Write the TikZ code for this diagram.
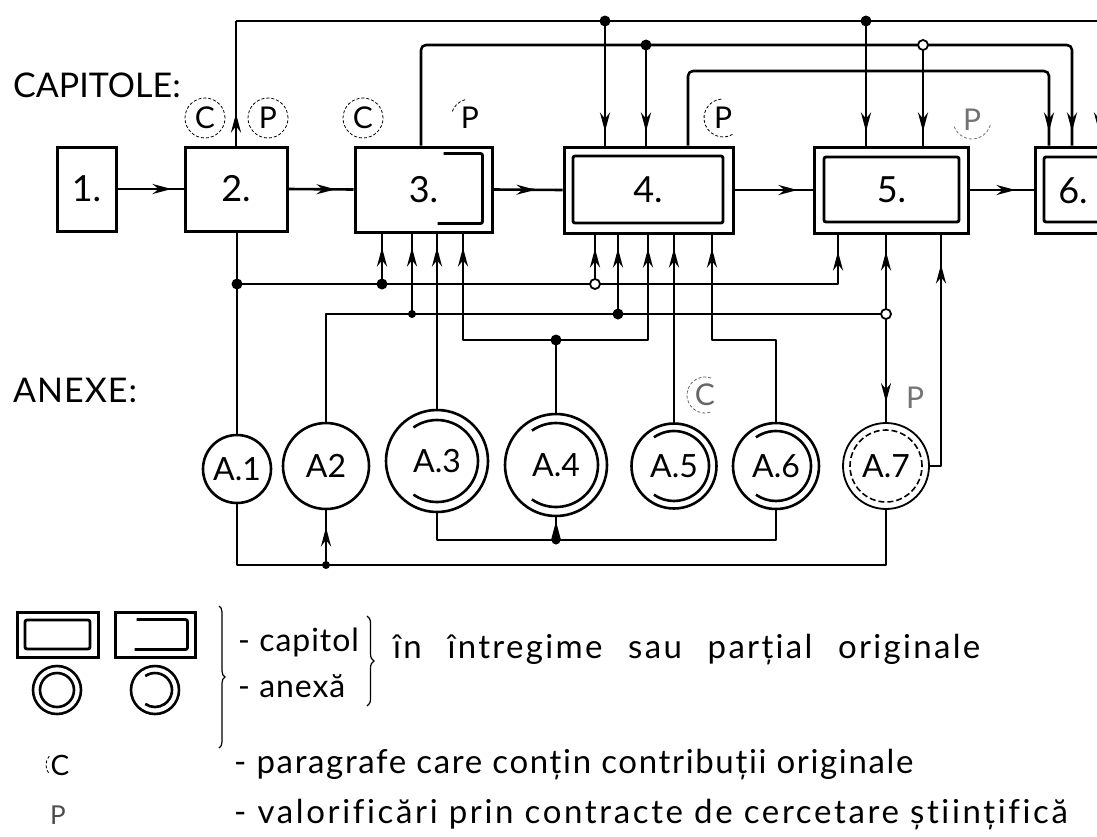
\documentclass[tikz,border=0pt]{standalone}
\usepackage{fontspec}
\setmainfont{Lato}[Ligatures=NoCommon]
\usetikzlibrary{arrows.meta,decorations.markings,decorations.pathreplacing,calc}
\newcommand{\fsz}[1]{\fontsize{#1}{#1}\selectfont}
\newcommand{\lsp}[1]{\addfontfeature{LetterSpace=#1}}
\begin{document}
\begin{tikzpicture}[x=1pt,y=-1pt,
  conn/.style={line width=2.6pt, line join=round},
  boxs/.style={draw, line width=3pt, rectangle, inner sep=0pt, font=\fsz{36}},
  innerbox/.style={draw, line width=2.8pt, rectangle, inner sep=0pt, rounded corners=2pt},
  brk/.style={line width=2.8pt, rounded corners=2pt},
  anx/.style={draw, circle, line width=2.6pt, inner sep=0pt, font=\fsz{32}},
  innerarc/.style={line width=2.6pt},
  note/.style={circle, inner sep=0pt, minimum size=40pt, font=\fsz{30}},
  dashc/.style={draw, dash pattern=on 3pt off 2pt, line width=0.8pt},
  thinarc/.style={dash pattern=on 3pt off 2pt, line width=0.8pt},
  dot/.style={circle, fill=black, inner sep=0pt, minimum size=11pt},
  odot/.style={circle, fill=white, draw=black, line width=1.8pt, inner sep=0pt, minimum size=10pt},
  tipat/.style={postaction={decorate}, decoration={markings, mark=at position #1 with {\arrow{Stealth[length=19pt,width=10pt]}}}},
  lbl/.style={inner sep=0pt, anchor=west},
]
\useasboundingbox (0,0) rectangle (1097,836);

% ---------- labels
\node[lbl, font=\fsz{34}] (capt) at (13,85) {CAPITOLE:};
\node[lbl, font=\fsz{34}\lsp{3}] (anex) at (13,390) {ANEXE:};

% ---------- chapter boxes
\node[boxs, minimum width=59pt, minimum height=84pt] (b1) at (86.5,189) {1.};
\node[boxs, minimum width=102pt, minimum height=84pt] (b2) at (236,189) {2.};
\node[boxs, minimum width=137pt, minimum height=85pt] (b3) at (423.5,189.5) {3.};
\draw[brk] ($(b3.north east)+(-50,8)$) -- ($(b3.north east)+(-11,8)$) -- ($(b3.south east)+(-11,-10)$) -- ($(b3.south east)+(-56,-10)$);
\node[boxs, minimum width=169pt, minimum height=86pt] (b4) at (648.5,190) {};
\node[innerbox, minimum width=150pt, minimum height=67pt, font=\fsz{36}] (b4i) at (648,189.5) {4.};
\node[boxs, minimum width=154pt, minimum height=86pt] (b5) at (891,190) {};
\node[innerbox, minimum width=135pt, minimum height=65pt, font=\fsz{36}] (b5i) at (891.5,189.5) {5.};
\node[boxs, minimum width=180pt, minimum height=86pt] (b6) at (1125,190) {};
\node[innerbox, minimum width=162pt, minimum height=65pt] (b6i) at (1125,189.5) {};
\node[font=\fsz{36}, inner sep=0pt] (t6) at (1073,191) {6.};

% ---------- annex circles
\node[anx, minimum size=68pt] (A1) at (237,469) {A.1};
\node[anx, minimum size=86pt] (A2) at (326,466) {A2};
\node[anx, minimum size=102pt] (A3) at (437,461) {A.3};
\node[anx, minimum size=102pt] (A4) at (556,465) {A.4};
\node[anx, minimum size=85pt] (A5) at (674,466) {A.5};
\node[anx, minimum size=86pt] (A6) at (776,466) {A.6};
\node[anx, minimum size=86pt, line width=1.8pt] (A7) at (886,466) {A.7};
\draw[innerarc] (A3.center) ++(125:41pt) arc[start angle=125, end angle=-125, radius=41pt];
\draw[innerarc] (A4.center) ++(125:42pt) arc[start angle=125, end angle=-125, radius=42pt];
\draw[innerarc] (A5.center) ++(125:35pt) arc[start angle=125, end angle=-125, radius=35pt];
\draw[innerarc] (A6.center) ++(125:35pt) arc[start angle=125, end angle=-125, radius=35pt];
\draw[line width=1.6pt, dash pattern=on 6pt off 3pt] (A7.center) circle[radius=36pt];

% ---------- notes C / P
\node[note, dashc] (nC2) at (205,118) {C};
\node[note, dashc] (nP2) at (268,118) {P};
\node[note, dashc] (nC3) at (363,118) {C};
\node[note] (nP3) at (470,118) {P};
\draw[thinarc] (nP3.center) ++(105:19pt) arc[start angle=105, end angle=165, radius=19pt];
\node[note] (nP4) at (723,118) {P};
\draw[thinarc] (nP4.center) ++(95:19pt) arc[start angle=95, end angle=300, radius=19pt];
\node[note, text=black!55] (nP5) at (972,120) {P};
\draw[thinarc, black!55] (nP5.center) ++(200:19pt) arc[start angle=200, end angle=350, radius=19pt];
\node[note, text=black!60] (nC5) at (705,395) {C};
\draw[thinarc, black!60] (nC5.center) ++(70:18pt) arc[start angle=70, end angle=290, radius=18pt];
\node[note, text=black!55] (nP7) at (915,398) {P};

% ---------- coordinates of buses
\coordinate (c21) at (236,21);
\coordinate (e1) at (1099,21);
\coordinate (d41) at (605,21);
\coordinate (d51) at (866,21);
\coordinate (c3) at (421,45);
\coordinate (c62) at (1072,45);
\coordinate (d42) at (646,45);
\coordinate (d52) at (923,45);
\coordinate (c4) at (688,71);
\coordinate (c61) at (1049,71);

\coordinate (j1) at (237,284);
\coordinate (j3a) at (382,284);
\coordinate (j4a) at (595,284);
\coordinate (k5) at (838,284);
\coordinate (m0) at (326,314);
\coordinate (j3b) at (412,314);
\coordinate (j4b) at (618,314);
\coordinate (m7) at (886,314);
\coordinate (n3) at (463,340);
\coordinate (n4) at (556,340);
\coordinate (n5) at (648,340);
\coordinate (p6) at (776,340);
\coordinate (p4) at (712,340);
\coordinate (q) at (941,466);
\coordinate (r1) at (237,565);
\coordinate (r2) at (326,565);
\coordinate (r7) at (886,565);
\coordinate (s3) at (437,540);
\coordinate (s4) at (556,540);
\coordinate (s6) at (776,540);

% ---------- horizontal chapter flow
\draw[conn, tipat=-12pt] (b1.east) -- (b2.west);
\draw[conn, tipat=-18pt] (b2.east) -- (b3.west);
\draw[conn, tipat=-27pt] (b3.east) -- (b4.west);
\draw[conn, tipat=-15pt] (b4.east) -- (b5.west);
\draw[conn, tipat=-18pt] (b5.east) -- (b6.west);

% ---------- top buses
\draw[conn, tipat=32pt] (c21 |- b2.north) -- (c21);
\draw[conn, tipat=-14pt] (c21) -- (e1) -- (e1 |- b6.north);
\draw[conn, tipat=-14pt] (d41) -- (d41 |- b4.north);
\draw[conn, tipat=-14pt] (d51) -- (d51 |- b5.north);
\draw[conn, rounded corners=5pt, tipat=-14pt] (c3 |- b3.north) -- (c3) -- (c62) -- (c62 |- b6.north);
\draw[conn, tipat=-14pt] (d42) -- (d42 |- b4.north);
\draw[conn, tipat=-14pt] (d52) -- (d52 |- b5.north);
\draw[conn, rounded corners=5pt, tipat=-14pt] (c4 |- b4.north) -- (c4) -- (c61) -- (c61 |- b6.north);

% ---------- lower buses
\draw[conn] (j1 |- b2.south) -- (j1) -- (A1.north);
\draw[conn, tipat=-17pt] (j1) -- (k5) -- (k5 |- b5.south);
\draw[conn, tipat=-14pt] (j3a) -- (j3a |- b3.south);
\draw[conn, tipat=-14pt] (j4a) -- (j4a |- b4.south);

\draw[conn] (A2.north) -- (m0) -- (m7);
\draw[conn, tipat=-14pt] (j3b) -- (j3b |- b3.south);
\draw[conn, tipat=-14pt] (j4b) -- (j4b |- b4.south);
\draw[conn, tipat=-17pt] (m7) -- (m7 |- b5.south);
\draw[conn, tipat=-20pt] (m7) -- (A7.north);

\draw[conn, tipat=-14pt] (A3.north) -- (A3.north |- b3.south);
\draw[conn] (A4.north) -- (n4);
\draw[conn, tipat=-14pt] (n4) -- (n3) -- (n3 |- b3.south);
\draw[conn, tipat=-14pt] (n4) -- (n5) -- (n5 |- b4.south);
\draw[conn, tipat=-14pt] (A5.north) -- (A5.north |- b4.south);
\draw[conn, tipat=-14pt] (A6.north) -- (p6) -- (p4) -- (p4 |- b4.south);
\draw[conn, tipat=-30pt] (A7.east) -- (q) -- (q |- b5.south);

\draw[conn] (A1.south) -- (r1) -- (r7) -- (A7.south);
\draw[conn, tipat=-17pt] (r2) -- (A2.south);
\draw[conn] (A3.south) -- (s3) -- (s6) -- (A6.south);
\draw[conn, tipat=-4pt] (s4) -- (A4.south);

% ---------- junction dots
\node[dot] (D41) at (d41) {};
\node[dot] (D51) at (d51) {};
\node[dot] (D42) at (d42) {};
\node[odot] (D52) at (d52) {};
\node[dot] (J1) at (j1) {};
\node[dot] (J3a) at (j3a) {};
\node[odot] (J4a) at (j4a) {};
\node[dot, minimum size=8pt] (J3b) at (j3b) {};
\node[dot] (J4b) at (j4b) {};
\node[odot] (M7) at (m7) {};
\node[dot] (N4) at (n4) {};
\node[dot, minimum size=8pt] (R2) at (r2) {};
\node[dot, minimum size=9pt] (S4) at (s4) {};

% ---------- legend
\node[boxs, minimum width=81pt, minimum height=45pt] (L1) at (57.5,634.5) {};
\node[innerbox, minimum width=65pt, minimum height=29pt] (L1i) at (57.5,634.5) {};
\node[boxs, minimum width=80pt, minimum height=45pt] (L2) at (155,634.5) {};
\draw[brk] ($(L2.north east)+(-60,9)$) -- ($(L2.north east)+(-9,9)$) -- ($(L2.south east)+(-9,-9)$) -- ($(L2.south east)+(-62,-9)$);
\node[anx, minimum size=48pt] (L3) at (57,690) {};
\draw[innerarc] (L3.center) circle[radius=17pt];
\node[anx, minimum size=48pt] (L4) at (155,690) {};
\draw[innerarc] (L4.center) ++(125:17pt) arc[start angle=125, end angle=-125, radius=17pt];
\coordinate (br1t) at (219,606);
\coordinate (br1b) at (219,748);
\draw[line width=1.2pt, decorate, decoration={brace, amplitude=6pt}] (br1t) -- (br1b);
\node[lbl, font=\fsz{32}\lsp{3}] (lcap) at (238,642) {- capitol};
\node[lbl, font=\fsz{32}\lsp{3}] (lanx) at (238,686) {- anexă};
\coordinate (br2t) at (367,616);
\coordinate (br2b) at (367,706);
\draw[line width=1.2pt, decorate, decoration={brace, amplitude=7pt}] (br2t) -- (br2b);
\node[lbl, font=\fsz{33}\lsp{7}] (lorig) at (393,650) {în\hspace{15pt} întregime\hspace{15pt} sau\hspace{15pt} parțial\hspace{15pt} originale};
\node[font=\fsz{28}, inner sep=0pt] (lC) at (60,765) {C};
\draw[thinarc] (lC.center) ++(140:14pt) arc[start angle=140, end angle=220, radius=14pt];
\node[lbl, font=\fsz{33}\lsp{5}] (lpar) at (234,765) {- paragrafe care conțin contribuții originale};
\node[font=\fsz{26}, inner sep=0pt, text=black!70] (lP) at (58,815) {P};
\node[lbl, font=\fsz{33}\lsp{8}] (lval) at (234,815) {- valorificări prin contracte de cercetare științifică};
\end{tikzpicture}
\end{document}
